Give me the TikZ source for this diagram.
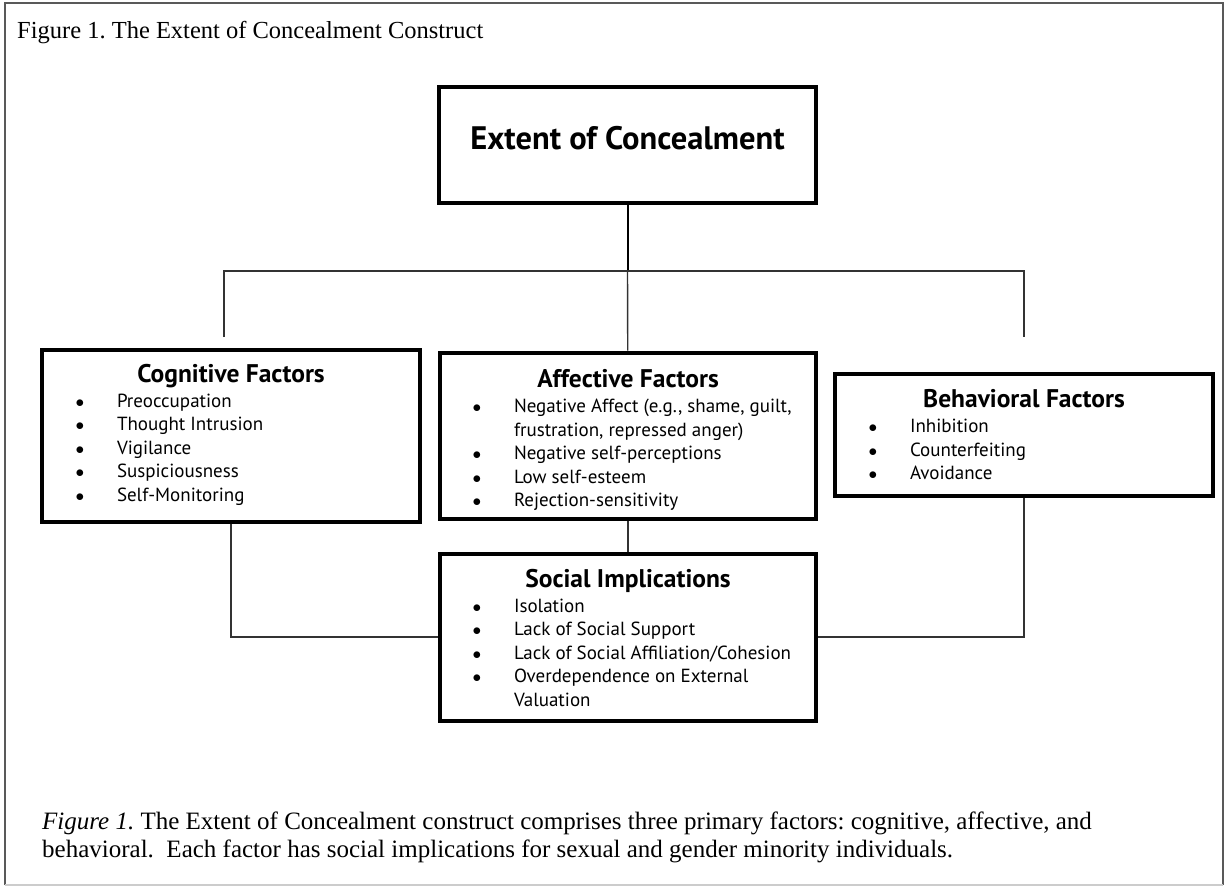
\documentclass[tikz,border=0pt]{standalone}
\usepackage{fontspec}
\setmainfont{Liberation Serif}
\setsansfont{PT Sans}
\usepackage{array}
\usetikzlibrary{positioning}
\frenchspacing

\newcommand{\boxhead}[1]{\multicolumn{2}{@{}c@{}}{\fontsize{25.5}{28}\selectfont\bfseries #1}\\[2pt]}
\newcommand{\bul}{$\bullet$}
\newcolumntype{K}{>{\centering\arraybackslash}p{74pt}}
\newcolumntype{T}{>{\raggedright\arraybackslash}p{302pt}}

\begin{document}
\begin{tikzpicture}[x=1pt,y=-1pt,
    factor/.style={draw, line width=4pt, inner sep=0pt, font=\sffamily\fontsize{19}{23.4}\selectfont},
    link/.style={draw=black!80, line width=1.4pt}]
        \useasboundingbox (0,0) rectangle (1225,886);
        % Cadre
        \draw[black!65, line width=1.5pt] (5,885) -- (5,3) -- (1223,3) -- (1223,885);
        \draw[black!20, line width=1.5pt] (5,885) -- (1223,885);
        % Titre
        \node[anchor=base west, inner sep=0pt, font=\fontsize{24.5}{28}\selectfont] (title) at (17,38)
            {Figure 1. The Extent of Concealment Construct};
        % Boites
        \node[factor, minimum width=377, minimum height=116, text depth=14pt,
            font=\sffamily\fontsize{32.5}{36}\selectfont\bfseries] (concealment) at (627.5,145)
            {Extent of Concealment};
        \node[factor, minimum width=378, minimum height=172] (cognitive) at (231,435.5)
            {\raisebox{-0.5pt}[\height][\depth]{\begin{tabular}{@{}K@{}T@{}}
            \boxhead{Cognitive Factors}
            \bul & Preoccupation\\
            \bul & Thought Intrusion\\
            \bul & Vigilance\\
            \bul & Suspiciousness\\
            \bul & Self-Monitoring\\
            \end{tabular}}};
        \node[factor, minimum width=376, minimum height=166] (affective) at (628,435.5)
            {\raisebox{-6pt}[\height][\depth]{\begin{tabular}{@{}K@{}T@{}}
            \boxhead{Affective Factors}
            \bul & Negative Affect (e.g., shame, guilt,\newline frustration, repressed anger)\\
            \bul & Negative self-perceptions\\
            \bul & Low self-esteem\\
            \bul & Rejection-sensitivity\\
            \end{tabular}}};
        \node[factor, minimum width=378, minimum height=122] (behavioral) at (1024,434.5)
            {\raisebox{-3.5pt}[\height][\depth]{\begin{tabular}{@{}K@{}T@{}}
            \boxhead{Behavioral Factors}
            \bul & Inhibition\\
            \bul & Counterfeiting\\
            \bul & Avoidance\\
            \end{tabular}}};
        \node[factor, minimum width=376, minimum height=167] (social) at (628,637)
            {\raisebox{-4pt}[\height][\depth]{\begin{tabular}{@{}K@{}T@{}}
            \boxhead{Social Implications}
            \bul & Isolation\\
            \bul & Lack of Social Support\\
            \bul & Lack of Social Affiliation/Cohesion\\
            \bul & Overdependence on External\newline Valuation\\
            \end{tabular}}};
        % Liens
        \coordinate (bus) at (627.5,271);
        \coordinate (cogtop) at (224,337);
        \coordinate (behtop) at (1024,337);
        \draw[black, line width=2pt] (concealment) -- (bus);
        \draw[link] (bus) -- (affective);
        \draw[link] (cogtop) |- (bus) -| (behtop);
        \draw[link] (affective) -- (social);
        \draw[link] (cognitive.south) |- (social.west);
        \draw[link] (behavioral.south) |- (social.east);
        % Legende
        \node[anchor=base west, inner sep=0pt, align=left, font=\fontsize{25}{28}\selectfont] (caption) at (42,857)
            {\textit{Figure 1.} The Extent of Concealment construct comprises three primary factors: cognitive, affective, and\\
            behavioral.\ \ Each factor has social implications for sexual and gender minority individuals.};
\end{tikzpicture}
\end{document}
